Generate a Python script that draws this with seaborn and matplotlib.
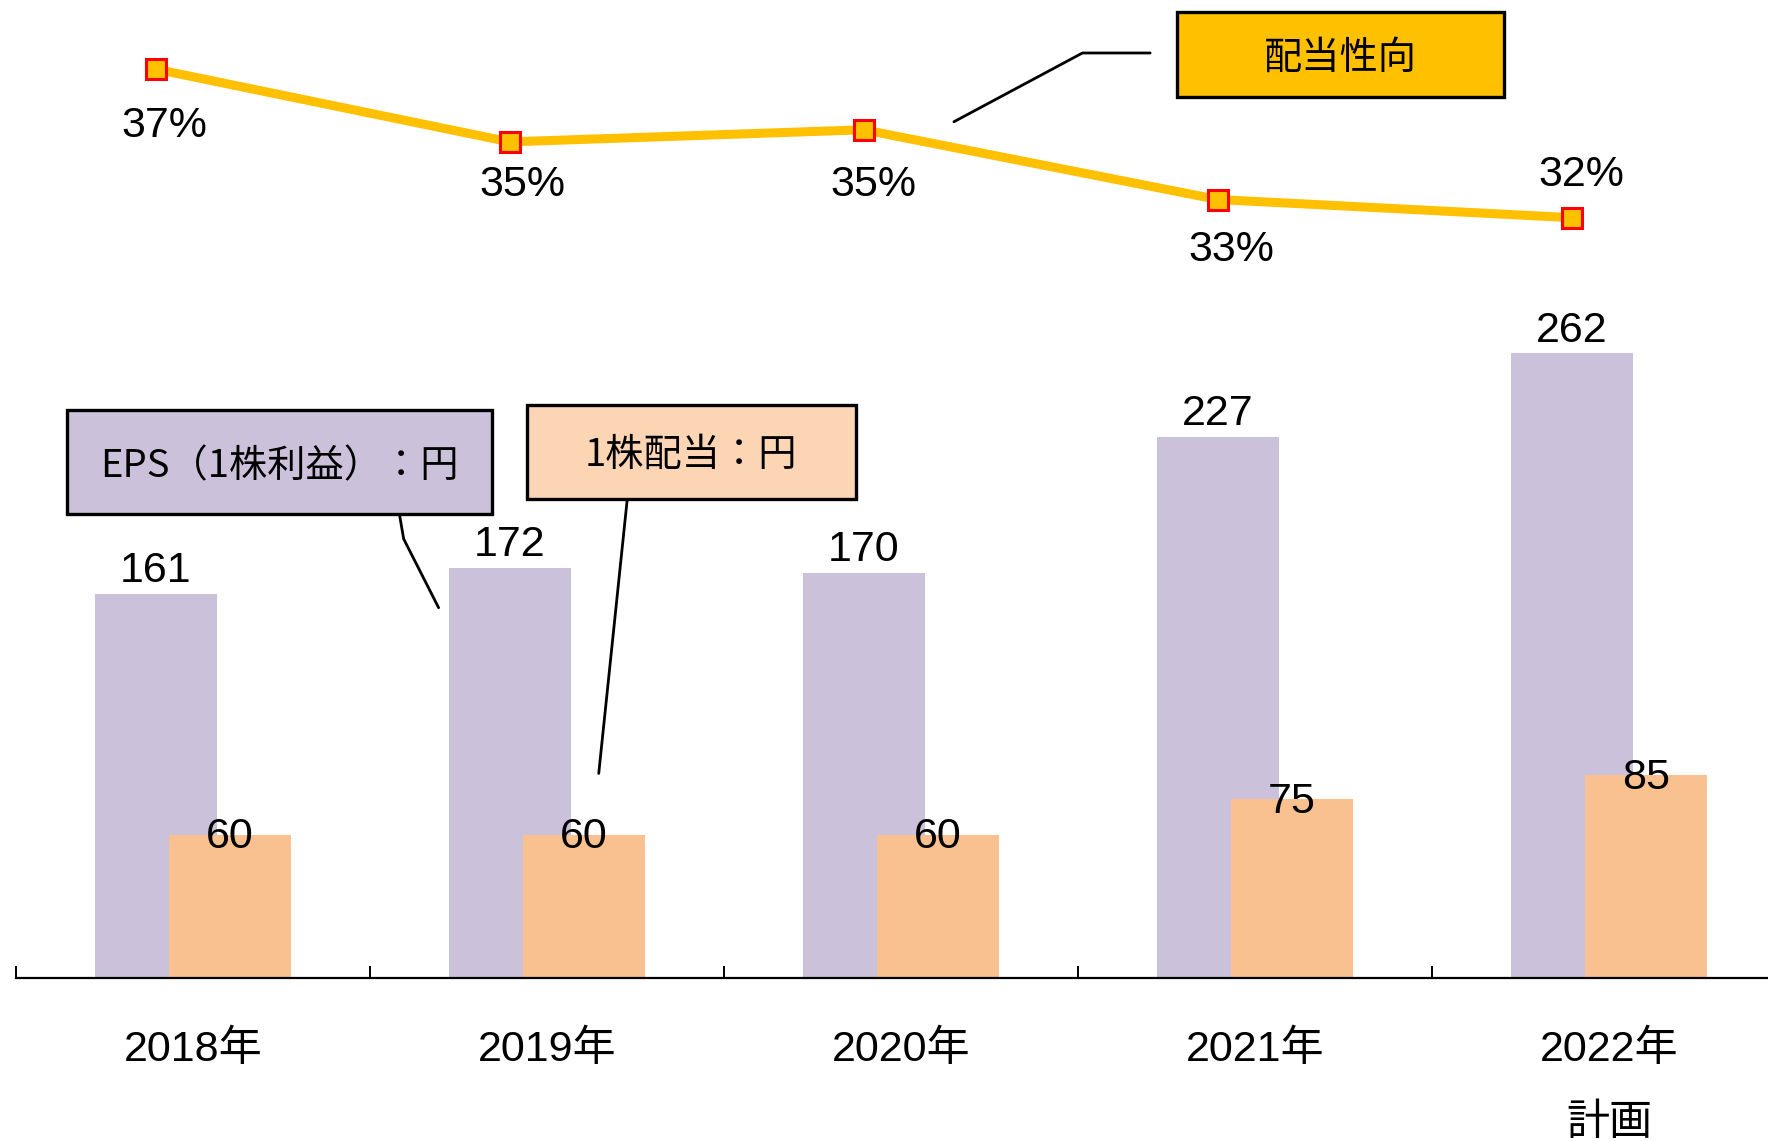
import numpy as np
import pandas as pd
import matplotlib
matplotlib.use("Agg")
import matplotlib.pyplot as plt
from matplotlib.patches import Rectangle
from matplotlib.lines import Line2D
import seaborn as sns

# ---------------- data ----------------
years = ["2018年", "2019年", "2020年", "2021年", "2022年\n計画"]
eps = [161, 172, 170, 227, 262]
dividend = [60, 60, 60, 75, 85]
payout = [37.3, 34.9, 35.3, 33.0, 32.4]
payout_labels = ["37%", "35%", "35%", "33%", "32%"]
legend_eps = "EPS（1株利益）：円"
legend_div = "1株配当：円"
legend_payout = "配当性向"

# ---------------- style ----------------
sns.set_style("white")
plt.rcParams["font.family"] = ["Liberation Sans", "Noto Sans CJK JP", "DejaVu Sans"]
plt.rcParams["text.color"] = "black"
plt.rcParams["xtick.color"] = "black"
plt.rcParams["xtick.labelcolor"] = "black"

PURPLE = "#CCC1DA"
ORANGE = "#F9C18F"
ORANGE_LIGHT = "#FCD5B5"
GOLD = "#FFC000"
RED = "#FF0000"

W, H = 1568.0, 1012.0  # reference display frame used for layout fractions
fig = plt.figure(figsize=(17.68, 11.41), dpi=100)
base_y = 867.0
ax = fig.add_axes([0.0, 1 - base_y / H, 1.0, base_y / H])

n = len(years)
pos = np.arange(n)
off = 0.105
bw = 0.344

df = pd.DataFrame({"pos": pos, "eps": eps, "div": dividend, "payout": payout})

sns.barplot(x=df["pos"] - off, y=df["eps"], native_scale=True, width=bw,
            color=PURPLE, saturation=1, ax=ax, errorbar=None, linewidth=0,
            edgecolor="none")
sns.barplot(x=df["pos"] + off, y=df["div"], native_scale=True, width=bw,
            color=ORANGE, saturation=1, ax=ax, errorbar=None, linewidth=0,
            edgecolor="none")

x0 = -0.5 - 14.0 / 314.0
x1 = x0 + W / 314.0
ax.set_xlim(x0, x1)
ax.set_ylim(0, base_y / 2.113)

FS = 31
# data labels
for p, v in zip(pos, eps):
    ax.annotate(str(v), (p - off, v), xytext=(0, 2), textcoords="offset points",
                ha="center", va="bottom", fontsize=FS, color="black")
for p, v in zip(pos, dividend):
    ax.annotate(str(v), (p + off, v), xytext=(0, -2), textcoords="offset points",
                ha="center", va="center", fontsize=FS, color="black")

# axes styling
for s in ["left", "right", "top"]:
    ax.spines[s].set_visible(False)
ax.spines["bottom"].set_color("black")
ax.spines["bottom"].set_linewidth(1.6)
ax.spines["bottom"].set_bounds(-0.5, x1)
ax.set_yticks([])
ax.set_ylabel("")
ax.set_xlabel("")
ax.set_xticks(pos)
ax.set_xticklabels(years, fontsize=FS, linespacing=2.1, color="black")
ax.set_xticks(np.arange(n) - 0.5, minor=True)
ax.tick_params(axis="x", which="major", bottom=True, length=0, pad=38)
ax.tick_params(axis="x", which="minor", bottom=True, direction="in", length=8.5,
               width=1.4, color="black")

# payout ratio line on twin axis
ax2 = ax.twinx()
sns.lineplot(x=df["pos"] - off, y=df["payout"], ax=ax2, color=GOLD, linewidth=6.5,
             marker="s", markersize=14, markerfacecolor=GOLD, markeredgecolor=RED,
             markeredgewidth=2.2, zorder=5)
ax2.set_ylim(7.34, 39.58)
ax2.set_xlim(x0, x1)
ax2.set_yticks([])
ax2.set_ylabel("")
for s in ax2.spines.values():
    s.set_visible(False)

lab_off = [(6, -41), (9, -31), (7, -40), (10, -36), (7, 31)]
for p, v, t, (dx, dy) in zip(pos, payout, payout_labels, lab_off):
    ax2.annotate(t, (p - off, v), xytext=(dx, dy), textcoords="offset points",
                 ha="center", va="center", fontsize=FS, color="black")

# ---------------- callout boxes ----------------
def fx(x):
    return x / W

def fy(y):
    return 1 - y / H

def box(x0_, y0_, x1_, y1_, fc, text, dy=0):
    r = Rectangle((fx(x0_), fy(y1_)), fx(x1_) - fx(x0_), fy(y0_) - fy(y1_),
                  transform=fig.transFigure, facecolor=fc, edgecolor="black",
                  linewidth=2.4, zorder=10)
    fig.add_artist(r)
    fig.text(fx((x0_ + x1_) / 2), fy((y0_ + y1_) / 2 + dy), text, ha="center",
             va="center", fontsize=27.5, color="black",
             family=["Noto Sans CJK JP", "DejaVu Sans"], zorder=11)

def leader(points):
    xs = [fx(p[0]) for p in points]
    ys = [fy(p[1]) for p in points]
    fig.add_artist(Line2D(xs, ys, transform=fig.transFigure, color="black",
                          linewidth=2.0, zorder=9))

box(1044, 11, 1334, 86, GOLD, legend_payout, dy=3)
box(59, 364, 436, 456, PURPLE, legend_eps, dy=4)
box(467, 359, 759, 443, ORANGE_LIGHT, legend_div, dy=3)

leader([(1020, 47), (960, 47), (846, 108)])
leader([(352, 443), (358, 478), (389, 539)])
leader([(557, 436), (531, 686)])

fig.savefig("out.png", dpi=100)
